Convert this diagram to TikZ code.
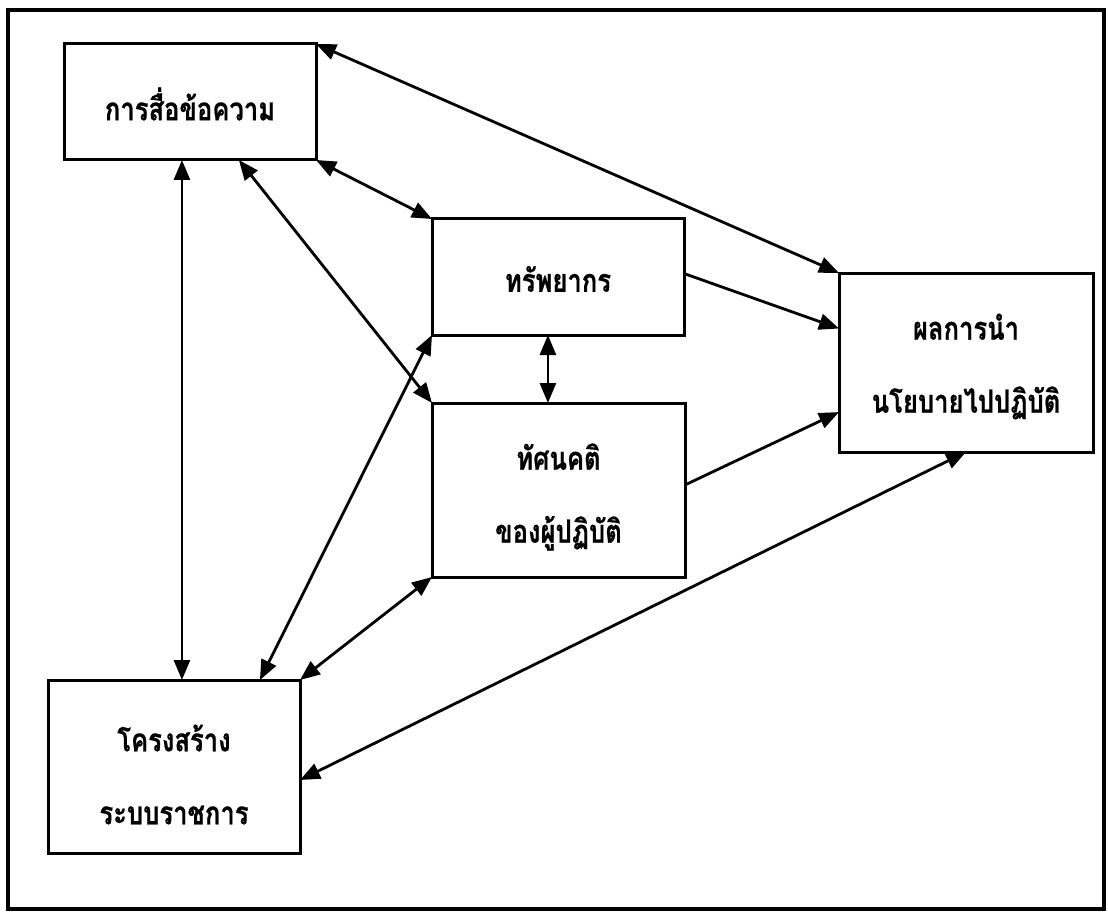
\documentclass[tikz,border=0pt]{standalone}
\usepackage{fontspec}
\newfontfamily\thaifont[Script=Thai,FakeStretch=0.8,FakeBold=0.6]{Loma}
\usetikzlibrary{arrows.meta,calc}

\tikzset{
  box/.style={draw, line width=3pt, rectangle, inner sep=0pt, outer sep=0pt},
  boxtext/.style={align=center, inner sep=0pt,
    font=\thaifont\bfseries\fontsize{32}{73}\selectfont},
  link/.style={line width=2.8pt, -{Triangle[length=20pt,width=16pt]}},
  dbl/.style={line width=2.8pt, {Triangle[length=20pt,width=16pt]}-{Triangle[length=20pt,width=16pt]}},
  frame/.style={line width=3.5pt}
}

\begin{document}
\begin{tikzpicture}[x=1pt,y=-1pt]
  \useasboundingbox (0,0) rectangle (1108,912);
  \draw[frame] (8,10) rectangle (1104,909);

  % boxes
  \node[box, minimum width=252pt, minimum height=116pt] (A) at (190,102) {};
  \node[box, minimum width=252pt, minimum height=116pt] (B) at (558,277) {};
  \node[box, minimum width=253pt, minimum height=174pt] (C) at (558.5,490) {};
  \node[box, minimum width=254pt, minimum height=179pt] (D) at (966,362.5) {};
  \node[box, minimum width=252pt, minimum height=173pt] (E) at (174,766.5) {};

  % box texts
  \node[boxtext] (At) at ($(A)+(0,2)$) {การสื่อข้อความ};
  \node[boxtext] (Bt) at ($(B)+(0,2)$) {ทรัพยากร};
  \node[boxtext] (Ct) at ($(C)+(0,7)$) {ทัศนคติ\\ของผู้ปฏิบัติ};
  \node[boxtext] (Dt) at ($(D)+(0,4)$) {ผลการนำ\\นโยบายไปปฏิบัติ};
  \node[boxtext] (Et) at ($(E)+(0,8)$) {โครงสร้าง\\ระบบราชการ};

  % connectors
  \draw[dbl] (A.north east) -- (D.north west);
  \draw[dbl] (A.south east) -- (B.north west);
  \draw[dbl] ($(A.south west)!0.468!(A.south east)$) coordinate (ae) -- (ae |- E.north);
  \draw[dbl] ($(A.south west)!0.694!(A.south east)$) -- (C.north west);
  \draw[link] ($(B.north east)!0.47!(B.south east)$) -- ($(D.north west)!0.31!(D.south west)$);
  \draw[dbl] ($(B.south west)!0.46!(B.south east)$) coordinate (bc) -- (bc |- C.north);
  \draw[link] ($(C.north east)!0.471!(C.south east)$) -- ($(D.north west)!0.777!(D.south west)$);
  \draw[dbl] ($(E.north west)!0.841!(E.north east)$) -- (B.south west);
  \draw[dbl] (E.north east) -- (C.south west);
  \draw[dbl] ($(E.north east)!0.578!(E.south east)$) -- (D.south);
\end{tikzpicture}
\end{document}
